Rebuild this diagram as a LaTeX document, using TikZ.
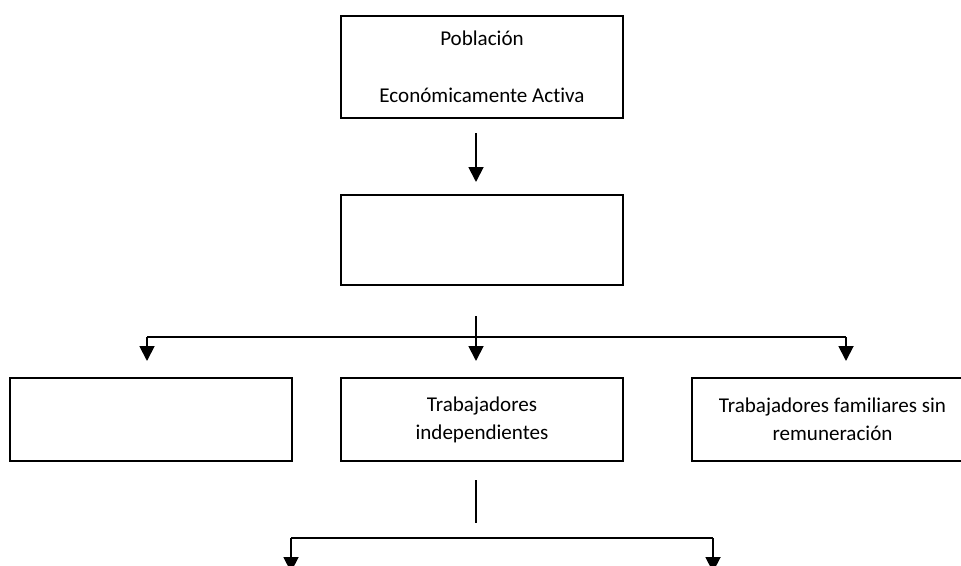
\documentclass[tikz,border=0pt]{standalone}
\usepackage{fontspec}
\setmainfont{Carlito}[Ligatures=NoCommon]
\usepackage{tikz}
\usetikzlibrary{arrows.meta}

\begin{document}
\begin{tikzpicture}[x=0.75pt,y=-0.75pt,
  caja/.style={draw=black, line width=1.5pt, minimum width=211.5pt, minimum height=62.25pt, inner sep=0pt, align=center, font=\fontsize{15.8}{21}\selectfont},
  flecha/.style={-{Triangle[width=11.25pt,length=11.25pt]}, line width=1.4pt}]
   \useasboundingbox (0,0) rectangle (961,565);
   \clip (0,0) rectangle (961,565);

   % cajas
   \node[caja, minimum height=76.5pt] (pea) at (482,67) {\raisebox{-2.5pt}{Población}\\[24pt]Económicamente Activa};
   \node[caja, minimum height=67.5pt] (ocup) at (482,240) {};
   \node[caja] (asal) at (151,419.5) {};
   \node[caja] (indep) at (482,419.5) {Trabajadores\\independientes};
   \node[caja] (famil) at (832.5,419.5) {Trabajadores familiares sin\\remuneración};

   % flechas
   \coordinate (a1) at (476,133);
   \coordinate (a2) at (476,182);
   \draw[flecha] (a1) -- (a2);

   \coordinate (rama) at (476,316);
   \coordinate (ri) at (147,337);
   \coordinate (rd) at (846,337);
   \draw[flecha] (rama) -- (476,361);
   \draw[line width=1.4pt] (ri) -- (rd);
   \draw[flecha] (ri) -- ++(0,24);
   \draw[flecha] (rd) -- ++(0,24);

   \coordinate (baja) at (476,480);
   \coordinate (bfin) at (476,523);
   \coordinate (bi) at (291,538);
   \coordinate (bd) at (713,538);
   \draw[line width=1.4pt] (baja) -- (bfin);
   \draw[line width=1.4pt] (bi) -- (bd);
   \draw[flecha] (bi) -- ++(0,34);
   \draw[flecha] (bd) -- ++(0,34);
\end{tikzpicture}
\end{document}
